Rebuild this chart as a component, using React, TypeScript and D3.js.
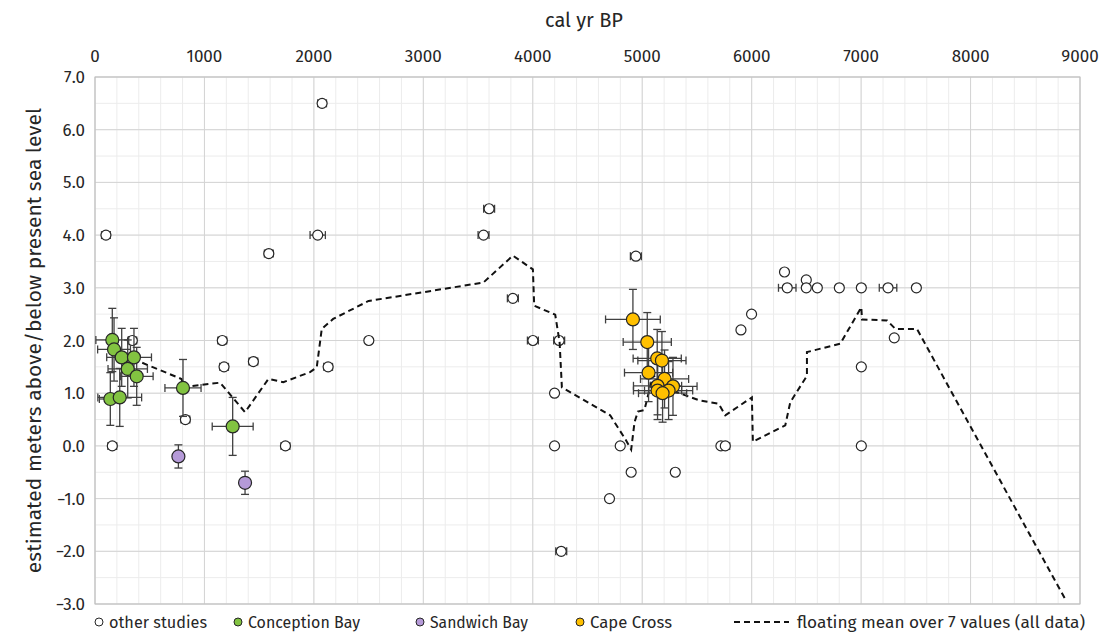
import React from "react";
import * as d3 from "d3";

// ---------- DATA ----------
const xTicks = [0, 1000, 2000, 3000, 4000, 5000, 6000, 7000, 8000, 9000];
const yTicks = [7, 6, 5, 4, 3, 2, 1, 0, -1, -2, -3];

// other studies
const otherX = [100, 158, 341, 826, 1163, 1179, 1447, 1588, 1740, 2035, 2075, 2130, 2502, 3550, 3601, 3818, 4001, 4241, 4199, 4199, 4260, 4701, 4799, 4899, 4942, 5302, 5719, 5759, 5902, 5999, 6300, 6325, 6499, 6499, 6600, 6801, 7002, 7246, 7303, 7505, 7002, 7002];
const otherY = [4.0, 0.0, 2.0, 0.5, 2.0, 1.5, 1.6, 3.65, 0.0, 4.0, 6.5, 1.5, 2.0, 4.0, 4.5, 2.8, 2.0, 2.0, 1.0, 0.0, -2.0, -1.0, 0.0, -0.5, 3.6, -0.5, 0.0, 0.0, 2.2, 2.5, 3.3, 3.0, 3.15, 3.0, 3.0, 3.0, 3.0, 3.0, 2.05, 3.0, 1.5, 0.0];
const otherXErr = [40, 40, 40, 40, 40, 40, 40, 40, 40, 70, 40, 40, 0, 50, 50, 50, 50, 50, 0, 0, 50, 0, 0, 0, 50, 0, 0, 40, 0, 0, 0, 80, 0, 0, 0, 0, 0, 80, 0, 0, 0, 0];

// Conception Bay
const conceptionX = [158, 174, 244, 356, 299, 381, 140, 226, 804, 1258];
const conceptionY = [2.01, 1.83, 1.68, 1.68, 1.46, 1.32, 0.89, 0.92, 1.1, 0.37];
const conceptionXErr = [150, 150, 137, 160, 180, 150, 100, 200, 165, 187];
const conceptionYErr = [0.6, 0.6, 0.55, 0.55, 0.55, 0.55, 0.5, 0.55, 0.54, 0.55];

// Sandwich Bay
const sandwichX = [762, 1371];
const sandwichY = [-0.2, -0.7];
const sandwichXErr = [0, 0];
const sandwichYErr = [0.22, 0.22];

// Cape Cross
const capeX = [4915, 5046, 5137, 5180, 5058, 5204, 5281, 5140, 5140, 5241, 5186];
const capeY = [2.4, 1.97, 1.66, 1.62, 1.39, 1.27, 1.13, 1.14, 1.05, 1.05, 1.0];
const capeXErr = [250, 220, 220, 220, 220, 220, 220, 220, 220, 220, 220];
const capeYErr = [0.57, 0.56, 0.55, 0.55, 0.55, 0.55, 0.55, 0.55, 0.55, 0.55, 0.55];

// floating mean over 7 values
const meanX = [347, 790, 820, 870, 1143, 1371, 1584, 1721, 1965, 2026, 2072, 2176, 2500, 3549, 3818, 4001, 4013, 4205, 4245, 4266, 4707, 4845, 4899, 4930, 4960, 5020, 5100, 5200, 5340, 5530, 5698, 5759, 6002, 6011, 6307, 6353, 6505, 6505, 6810, 7002, 7008, 7237, 7313, 7510, 8876];
const meanY = [1.65, 1.27, 1.1, 1.13, 1.2, 0.64, 1.27, 1.21, 1.4, 1.49, 2.22, 2.41, 2.75, 3.1, 3.61, 3.35, 2.66, 2.49, 1.97, 1.11, 0.58, 0.13, -0.07, 0.45, 0.65, 0.68, 1.35, 1.1, 1.0, 0.86, 0.8, 0.58, 0.92, 0.08, 0.39, 0.83, 1.33, 1.78, 1.94, 2.63, 2.4, 2.38, 2.22, 2.22, -2.95];

const legendItems = ["other studies", "Conception Bay", "Sandwich Bay", "Cape Cross"];
const legendColors = ["#ffffff", "#82c341", "#b59ad8", "#ffc000"];
const legendMeanLabel = "floating mean over 7 values (all data)";

// ---------- LAYOUT ----------
const W = 1104, H = 644;
const L = 95, R = 1080, T = 77, B = 604;
const FONT = "'Fira Sans', 'Noto Sans', 'Open Sans', sans-serif";

const x = d3.scaleLinear().domain([0, 9000]).range([L, R]);
const y = d3.scaleLinear().domain([-3, 7]).range([B, T]);

type Pt = { x: number; y: number; xe: number; ye: number };

function ErrBars({ pts }: { pts: Pt[] }) {
  const cap = 4;
  return (
    <g stroke="#404040" strokeWidth={1.3} fill="none">
      {pts.map((p, i) => (
        <g key={i}>
          {p.xe > 0 && (
            <>
              <line x1={x(p.x - p.xe)} x2={x(p.x + p.xe)} y1={y(p.y)} y2={y(p.y)} />
              <line x1={x(p.x - p.xe)} x2={x(p.x - p.xe)} y1={y(p.y) - cap} y2={y(p.y) + cap} />
              <line x1={x(p.x + p.xe)} x2={x(p.x + p.xe)} y1={y(p.y) - cap} y2={y(p.y) + cap} />
            </>
          )}
          {p.ye > 0 && (
            <>
              <line x1={x(p.x)} x2={x(p.x)} y1={y(p.y - p.ye)} y2={y(p.y + p.ye)} />
              <line x1={x(p.x) - cap} x2={x(p.x) + cap} y1={y(p.y - p.ye)} y2={y(p.y - p.ye)} />
              <line x1={x(p.x) - cap} x2={x(p.x) + cap} y1={y(p.y + p.ye)} y2={y(p.y + p.ye)} />
            </>
          )}
        </g>
      ))}
    </g>
  );
}

function Markers({ pts, fill, r }: { pts: Pt[]; fill: string; r: number }) {
  return (
    <g>
      {pts.map((p, i) => (
        <circle key={i} cx={x(p.x)} cy={y(p.y)} r={r} fill={fill} stroke="#262626" strokeWidth={1.2} />
      ))}
    </g>
  );
}

const mk = (xs: number[], ys: number[], xe: number[], ye?: number[]): Pt[] =>
  xs.map((v, i) => ({ x: v, y: ys[i], xe: xe[i], ye: ye ? ye[i] : 0 }));

export default function App() {
  const minorX = d3.range(0, 9001, 200);
  const minorY = d3.range(-3, 7.01, 0.5);
  const other = mk(otherX, otherY, otherXErr);
  const conc = mk(conceptionX, conceptionY, conceptionXErr, conceptionYErr);
  const sand = mk(sandwichX, sandwichY, sandwichXErr, sandwichYErr);
  const cape = mk(capeX, capeY, capeXErr, capeYErr);
  const line = d3
    .line<number>()
    .x((d, i) => x(meanX[i]))
    .y((d, i) => y(meanY[i]));

  const legendMarkerX = [99, 238, 420, 580];
  const legendTextW = [98, 112, 98, 82];
  const legendY = 624;

  return (
    <svg width={W} height={H} style={{ position: "absolute", left: 0, top: 0, background: "#fff" }}>
      <rect x={0} y={0} width={W} height={H} fill="#fff" />
      {/* minor grid */}
      <g stroke="#ececec" strokeWidth={1}>
        {minorX.map((v) => (
          <line key={"mx" + v} x1={x(v)} x2={x(v)} y1={T} y2={B} />
        ))}
        {minorY.map((v) => (
          <line key={"my" + v} x1={L} x2={R} y1={y(v)} y2={y(v)} />
        ))}
      </g>
      {/* major grid */}
      <g stroke="#d4d4d4" strokeWidth={1}>
        {xTicks.map((v) => (
          <line key={"Mx" + v} x1={x(v)} x2={x(v)} y1={T} y2={B} />
        ))}
        {yTicks.map((v) => (
          <line key={"My" + v} x1={L} x2={R} y1={y(v)} y2={y(v)} />
        ))}
      </g>
      <rect x={L} y={T} width={R - L} height={B - T} fill="none" stroke="#bfbfbf" strokeWidth={1} />

      {/* axes labels */}
      <g fontFamily={FONT} fontSize={17} fill="#262626">
        {xTicks.map((v) => (
          <text key={"xt" + v} x={x(v)} y={62} textAnchor="middle">
            {v}
          </text>
        ))}
        {yTicks.map((v) => (
          <text key={"yt" + v} x={85} y={y(v) + 6} textAnchor="end">
            {d3.format(".1f")(v)}
          </text>
        ))}
      </g>
      <text x={584} y={27} textAnchor="middle" fontFamily={FONT} fontSize={20} fill="#262626">
        cal yr BP
      </text>
      <text
        transform={`translate(41, ${(T + B) / 2}) rotate(-90)`}
        textAnchor="middle"
        fontFamily={FONT}
        fontSize={21}
        fill="#262626"
      >
        estimated meters above/below present sea level
      </text>

      {/* other studies */}
      <ErrBars pts={other} />
      <Markers pts={other} fill="#ffffff" r={5} />

      {/* floating mean */}
      <path d={line(meanX) || ""} fill="none" stroke="#111" strokeWidth={2} strokeDasharray="6,4" />

      {/* colored series */}
      <ErrBars pts={conc} />
      <Markers pts={conc} fill={legendColors[1]} r={6.5} />
      <ErrBars pts={sand} />
      <Markers pts={sand} fill={legendColors[2]} r={6.5} />
      <ErrBars pts={cape} />
      <Markers pts={cape} fill={legendColors[3]} r={6.5} />

      {/* legend */}
      <g fontFamily={FONT} fontSize={17} fill="#262626">
        {legendItems.map((t, i) => (
          <g key={t}>
            <circle cx={legendMarkerX[i]} cy={legendY - 2} r={4} fill={legendColors[i]} stroke="#262626" strokeWidth={1} />
            <text
              x={legendMarkerX[i] + 10}
              y={legendY + 4}
              textLength={legendTextW[i]}
              lengthAdjust="spacingAndGlyphs"
            >
              {t}
            </text>
          </g>
        ))}
        <line x1={734} x2={789} y1={legendY - 2} y2={legendY - 2} stroke="#111" strokeWidth={2} strokeDasharray="6,4" />
        <text x={797} y={legendY + 4} textLength={288} lengthAdjust="spacingAndGlyphs">
          {legendMeanLabel}
        </text>
      </g>
    </svg>
  );
}
